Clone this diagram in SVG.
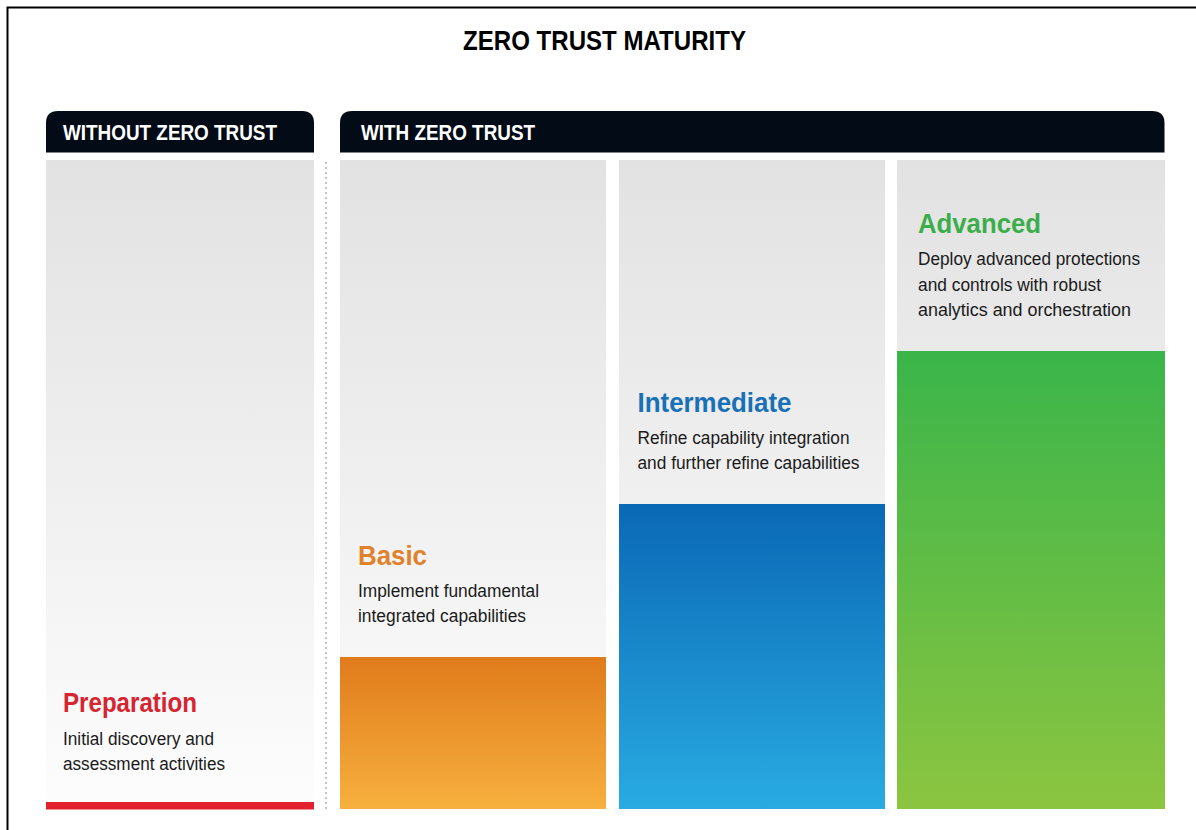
<svg xmlns="http://www.w3.org/2000/svg" width="1196" height="830" viewBox="0 0 1196 830">
  <defs>
    <linearGradient id="gGray" gradientUnits="userSpaceOnUse" x1="0" y1="160" x2="0" y2="810">
      <stop offset="0" stop-color="#e2e2e2"/>
      <stop offset="1" stop-color="#fdfdfd"/>
    </linearGradient>
    <linearGradient id="gOrange" x1="0" y1="0" x2="0" y2="1">
      <stop offset="0" stop-color="#e07b1b"/>
      <stop offset="1" stop-color="#f7b03e"/>
    </linearGradient>
    <linearGradient id="gBlue" x1="0" y1="0" x2="0" y2="1">
      <stop offset="0" stop-color="#0a68b5"/>
      <stop offset="1" stop-color="#29abe2"/>
    </linearGradient>
    <linearGradient id="gGreen" x1="0" y1="0" x2="0" y2="1">
      <stop offset="0" stop-color="#3ab54a"/>
      <stop offset="1" stop-color="#8cc540"/>
    </linearGradient>
  </defs>
  <style>
    text { font-family: "Liberation Sans Narrow", "Liberation Sans", Arial, sans-serif; }
    .title { font-size: 28px; font-weight: bold; fill: #000; }
    .hdr { fill: #030b16; }
    .hdrtxt { font-size: 22px; font-weight: bold; fill: #ffffff; }
    .stage { font-size: 28px; font-weight: bold; }
    .desc { font-size: 17.5px; fill: #1a1a1a; }
    .gray { fill: url(#gGray); }
  </style>
  <rect x="0" y="0" width="1196" height="830" fill="#ffffff"/>
  <!-- frame -->
  <path d="M7.5 830 V7.5 H1196" fill="none" stroke="#000" stroke-width="2"/>

  <text class="title" x="463" y="50" textLength="283" lengthAdjust="spacingAndGlyphs">ZERO TRUST MATURITY</text>

  <g id="header-without">
    <path class="hdr" d="M46 152.5 V123 Q46 111 58 111 H302 Q314 111 314 123 V152.5 Z"/>
    <text class="hdrtxt" x="63" y="140" textLength="214" lengthAdjust="spacingAndGlyphs">WITHOUT ZERO TRUST</text>
  </g>
  <g id="header-with">
    <path class="hdr" d="M340 152.5 V123 Q340 111 352 111 H1152 Q1164.5 111 1164.5 123 V152.5 Z"/>
    <text class="hdrtxt" x="361" y="140" textLength="174" lengthAdjust="spacingAndGlyphs">WITH ZERO TRUST</text>
  </g>

  <g id="connectors">
    <line x1="326" y1="162" x2="326" y2="810" stroke="#8a8a8a" stroke-width="1" stroke-dasharray="2 3"/>
  </g>

  <g id="preparation">
    <rect class="gray" x="46" y="160" width="268" height="642"/>
    <rect x="46" y="802" width="268" height="7.5" fill="#e3202d"/>
    <text class="stage" x="63" y="712" fill="#d62430" textLength="134" lengthAdjust="spacingAndGlyphs">Preparation</text>
    <text class="desc" x="63" y="745" textLength="151" lengthAdjust="spacingAndGlyphs">Initial discovery and</text>
    <text class="desc" x="63" y="770" textLength="162" lengthAdjust="spacingAndGlyphs">assessment activities</text>
  </g>

  <g id="basic">
    <rect class="gray" x="340" y="160" width="266" height="497"/>
    <rect x="340" y="657" width="266" height="152" fill="url(#gOrange)"/>
    <text class="stage" x="358" y="565" fill="#df822b" textLength="69" lengthAdjust="spacingAndGlyphs">Basic</text>
    <text class="desc" x="358" y="597" textLength="181" lengthAdjust="spacingAndGlyphs">Implement fundamental</text>
    <text class="desc" x="358" y="622" textLength="168" lengthAdjust="spacingAndGlyphs">integrated capabilities</text>
  </g>

  <g id="intermediate">
    <rect class="gray" x="619" y="160" width="266" height="344"/>
    <rect x="619" y="504" width="266" height="305" fill="url(#gBlue)"/>
    <text class="stage" x="637.5" y="412" fill="#1870b6" textLength="154" lengthAdjust="spacingAndGlyphs">Intermediate</text>
    <text class="desc" x="637.5" y="444" textLength="212" lengthAdjust="spacingAndGlyphs">Refine capability integration</text>
    <text class="desc" x="637.5" y="469" textLength="222" lengthAdjust="spacingAndGlyphs">and further refine capabilities</text>
  </g>

  <g id="advanced">
    <rect class="gray" x="897" y="160" width="268" height="191"/>
    <rect x="897" y="351" width="268" height="458" fill="url(#gGreen)"/>
    <text class="stage" x="918" y="233" fill="#3bae4b" textLength="123" lengthAdjust="spacingAndGlyphs">Advanced</text>
    <text class="desc" x="918" y="265" textLength="222" lengthAdjust="spacingAndGlyphs">Deploy advanced protections</text>
    <text class="desc" x="918" y="291" textLength="183" lengthAdjust="spacingAndGlyphs">and controls with robust</text>
    <text class="desc" x="918" y="316" textLength="213" lengthAdjust="spacingAndGlyphs">analytics and orchestration</text>
  </g>
</svg>
